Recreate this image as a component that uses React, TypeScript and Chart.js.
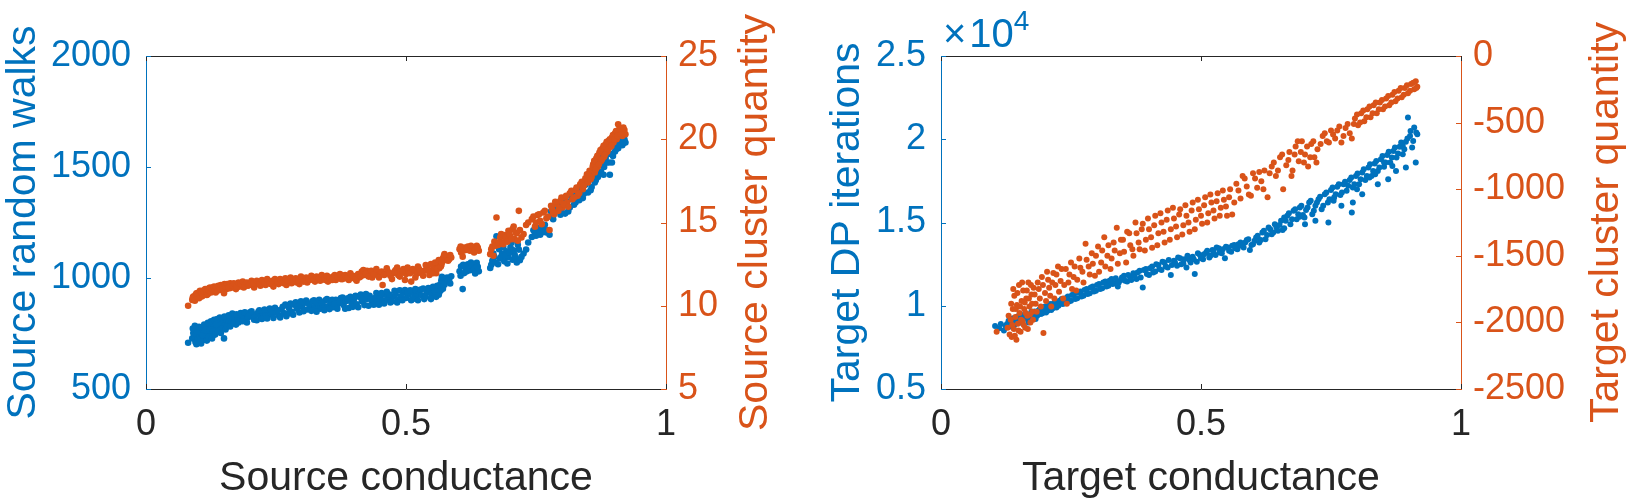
import React, { useEffect, useRef } from 'react';
import { Chart, registerables } from 'chart.js';

Chart.register(...registerables);

const BLUE = '#0072BD';
const ORANGE = '#D95319';
const AXIS = '#262626';
const FONT = "'Liberation Sans', Arial, Helvetica, sans-serif";

// ---------- Left plot: Source ----------
const sourceXTicks = [0, 0.5, 1];
const sourceWalksTicks = [500, 1000, 1500, 2000];
const sourceClusterTicks = [5, 10, 15, 20, 25];

const sourceWalks: [number, number][] = [
  [0.081,708],[0.089,728],[0.091,752],[0.093,738],[0.095,712],[0.096,765],[0.098,745],[0.100,725],[0.101,770],[0.103,740],
  [0.105,755],[0.106,705],[0.108,732],[0.110,768],[0.111,745],[0.113,722],[0.115,780],[0.116,758],[0.118,735],[0.120,772],
  [0.122,748],[0.124,790],[0.126,762],[0.128,742],[0.130,785],[0.132,770],[0.134,798],[0.136,765],[0.138,785],[0.141,805],
  [0.143,778],[0.146,795],[0.149,812],[0.150,728],[0.152,788],[0.155,805],[0.158,795],[0.161,818],[0.164,800],[0.167,822],
  [0.170,808],[0.173,790],[0.176,825],[0.180,812],[0.184,832],[0.188,815],[0.192,838],[0.196,822],[0.200,845],[0.204,828],
  [0.208,812],[0.212,836],[0.216,848],[0.220,826],[0.225,842],[0.230,830],[0.235,852],[0.240,836],[0.245,820],[0.250,845],
  [0.255,832],[0.260,858],[0.265,842],[0.270,828],[0.275,865],[0.280,848],[0.285,880],[0.290,862],[0.295,845],[0.300,872],
  [0.305,888],[0.310,858],[0.315,876],[0.320,895],[0.325,870],[0.330,885],[0.335,862],[0.340,878],[0.345,900],[0.350,872],
  [0.355,890],[0.360,868],[0.365,902],[0.370,885],[0.375,910],[0.380,878],[0.385,896],[0.390,865],[0.395,890],[0.400,905],
  [0.405,882],[0.410,915],[0.415,895],[0.420,878],[0.425,905],[0.430,920],[0.435,892],[0.440,910],[0.445,895],[0.450,918],
  [0.455,900],[0.460,925],[0.465,905],[0.470,890],[0.475,915],[0.480,928],[0.485,902],[0.490,918],[0.495,935],[0.500,910],
  [0.505,925],[0.510,900],[0.515,930],[0.520,918],[0.525,940],[0.530,922],[0.535,905],[0.540,935],[0.545,948],[0.550,925],
  [0.554,942],[0.558,915],[0.561,958],[0.564,935],[0.566,972],[0.568,990],[0.571,952],[0.573,998],[0.576,985],[0.579,1002],
  [0.583,992],[0.587,1008],[0.603,1030],[0.606,1052],[0.609,950],[0.612,1022],[0.615,1045],[0.619,1062],[0.623,1035],[0.627,1055],
  [0.631,1040],[0.636,1068],[0.640,1030],[0.662,1045],[0.666,1078],[0.670,1095],[0.674,1188],[0.677,1062],[0.681,1088],[0.685,1110],
  [0.689,1075],[0.693,1120],[0.697,1095],[0.701,1138],[0.705,1082],[0.709,1105],[0.713,1070],[0.717,1128],[0.722,1095],[0.731,1128],
  [0.742,1185],[0.748,1200],[0.753,1215],[0.758,1195],[0.764,1228],[0.770,1205],[0.776,1195],[0.781,1275],[0.785,1300],[0.789,1335],
  [0.793,1310],[0.797,1285],[0.801,1325],[0.806,1290],[0.810,1345],[0.815,1318],[0.820,1355],[0.826,1340],[0.830,1372],[0.835,1395],
  [0.840,1360],[0.845,1420],[0.850,1385],[0.853,1445],[0.857,1410],[0.860,1475],[0.863,1430],[0.866,1505],[0.869,1455],[0.872,1530],
  [0.875,1480],[0.878,1555],[0.881,1500],[0.884,1540],[0.887,1585],[0.890,1520],[0.893,1560],[0.896,1520],[0.899,1595],[0.902,1570],
  [0.905,1608],[0.908,1585],[0.912,1615],[0.916,1598],[0.920,1625],[0.922,1610],
  [0.090,772],[0.094,785],[0.097,702],[0.099,758],[0.102,780],[0.104,718],[0.107,776],[0.109,742],[0.112,790],[0.114,765],
  [0.117,718],[0.119,798],[0.121,735],[0.123,765],[0.125,805],[0.127,728],[0.129,760],[0.131,812],[0.133,745],[0.135,790],
  [0.137,815],[0.139,760],[0.142,822],[0.144,752],[0.147,772],[0.151,826],[0.153,768],[0.156,782],[0.159,832],[0.162,782],
  [0.166,840],[0.169,795],[0.174,836],[0.178,800],[0.182,842],[0.186,805],[0.190,846],[0.194,800],[0.198,832],[0.203,850],
  [0.207,822],[0.213,810],[0.218,855],[0.223,815],[0.228,858],[0.233,818],[0.238,862],[0.243,848],[0.248,866],[0.253,855],
  [0.258,822],[0.263,870],[0.268,880],[0.273,840],[0.278,885],[0.283,835],[0.288,890],[0.293,872],[0.298,895],[0.303,850],
  [0.308,898],[0.313,885],[0.318,852],[0.323,900],[0.328,848],[0.333,902],[0.338,890],[0.343,855],[0.348,905],[0.353,860],
  [0.358,902],[0.363,885],[0.368,862],[0.373,895],[0.378,912],[0.383,862],[0.388,908],[0.393,915],[0.398,870],[0.403,920],
  [0.408,868],[0.413,925],[0.418,905],[0.423,928],[0.428,875],[0.433,905],[0.438,880],[0.443,932],[0.448,880],[0.453,932],
  [0.458,885],[0.463,938],[0.468,925],[0.473,895],[0.478,942],[0.483,890],[0.488,945],[0.493,900],[0.498,946],[0.503,935],
  [0.508,945],[0.513,905],[0.518,950],[0.523,900],[0.528,948],[0.533,952],[0.538,915],[0.543,955],[0.548,905],[0.552,960],
  [0.556,938],[0.560,965],[0.563,925],[0.567,945],
  [0.569,1005],[0.574,970],[0.581,990],[0.585,975],[0.605,1010],[0.610,1060],[0.617,1030],[0.625,1070],[0.633,1020],[0.638,1050],
  [0.664,1060],[0.668,1110],[0.672,1070],[0.679,1130],[0.683,1095],[0.687,1140],[0.691,1100],[0.695,1065],[0.699,1115],[0.703,1160],
  [0.707,1125],[0.711,1090],[0.715,1150],[0.719,1080],[0.726,1110],[0.735,1160],[0.745,1215],[0.750,1190],[0.756,1225],[0.761,1205],
  [0.767,1240],[0.773,1215],[0.779,1300],[0.783,1265],[0.787,1310],[0.795,1340],[0.799,1300],[0.803,1360],[0.808,1330],[0.812,1300],
  [0.818,1370],[0.823,1330],[0.828,1390],[0.833,1350],[0.838,1410],[0.842,1380],[0.848,1440],[0.855,1395],[0.859,1460],[0.862,1500],
  [0.865,1440],[0.868,1520],[0.871,1470],[0.874,1545],[0.877,1510],[0.880,1465],[0.883,1575],[0.886,1520],[0.889,1560],[0.892,1465],
  [0.895,1595],[0.898,1550],[0.901,1600],[0.904,1580],[0.907,1620],[0.910,1600],[0.914,1630],[0.918,1615]
];

const sourceClusters: [number, number][] = [
  [0.081,10.0],[0.089,10.35],[0.091,10.55],[0.093,10.4],[0.095,10.65],[0.097,10.5],[0.099,10.75],[0.101,10.6],[0.103,10.85],[0.105,10.7],
  [0.107,10.55],[0.109,10.9],[0.111,10.75],[0.113,10.95],[0.115,10.8],[0.117,10.65],[0.119,10.95],[0.121,11.05],[0.123,10.85],[0.125,10.95],
  [0.128,11.1],[0.130,10.9],[0.132,11.05],[0.134,10.8],[0.136,11.0],[0.138,11.15],[0.141,10.95],[0.143,11.1],[0.146,11.0],[0.149,11.2],
  [0.150,10.75],[0.152,11.1],[0.155,11.0],[0.158,11.2],[0.161,11.05],[0.164,11.25],[0.167,11.1],[0.170,11.2],[0.173,11.0],[0.176,11.3],
  [0.180,11.15],[0.184,11.25],[0.188,11.1],[0.192,11.3],[0.196,11.2],[0.200,11.35],[0.204,11.25],[0.208,11.1],[0.212,11.3],[0.216,11.4],
  [0.220,11.2],[0.225,11.35],[0.230,11.25],[0.235,11.45],[0.240,11.3],[0.245,11.15],[0.250,11.4],[0.255,11.3],[0.260,11.5],[0.265,11.35],
  [0.270,11.25],[0.275,11.45],[0.280,11.35],[0.285,11.55],[0.290,11.4],[0.295,11.3],[0.300,11.5],[0.305,11.6],[0.310,11.4],[0.315,11.55],
  [0.320,11.65],[0.325,11.45],[0.330,11.6],[0.335,11.5],[0.340,11.7],[0.345,11.55],[0.350,11.45],[0.355,11.65],[0.360,11.75],[0.365,11.55],
  [0.370,11.7],[0.375,11.6],[0.380,11.8],[0.385,11.65],[0.390,11.55],[0.395,11.75],[0.400,11.65],[0.405,11.5],[0.410,11.7],[0.415,12.05],
  [0.420,11.85],[0.425,12.1],[0.430,11.9],[0.435,11.7],[0.440,12.0],[0.445,11.85],[0.450,11.95],[0.455,11.25],[0.460,11.9],[0.465,12.05],
  [0.470,11.8],[0.475,11.95],[0.480,12.15],[0.485,11.85],[0.490,12.0],[0.495,12.2],[0.500,11.9],[0.505,12.05],[0.510,11.45],[0.515,12.1],
  [0.520,11.9],[0.525,12.2],[0.530,11.95],[0.535,12.1],[0.540,12.3],[0.545,11.85],[0.550,12.15],[0.554,12.4],[0.558,11.95],[0.561,12.55],
  [0.564,12.25],[0.566,12.7],[0.568,12.45],[0.571,12.85],[0.573,13.0],[0.576,12.75],[0.579,12.95],[0.583,12.8],[0.587,12.9],[0.603,13.4],
  [0.606,13.2],[0.609,12.95],[0.612,13.5],[0.615,13.35],[0.619,13.55],[0.623,13.3],[0.627,13.45],[0.631,13.2],[0.636,13.6],[0.640,13.3],
  [0.662,13.1],[0.666,13.55],[0.670,13.85],[0.674,15.3],[0.677,13.65],[0.681,14.1],[0.685,13.8],[0.689,14.25],[0.693,13.95],[0.697,14.5],
  [0.701,14.15],[0.705,14.6],[0.709,14.0],[0.713,14.35],[0.717,15.7],[0.722,14.1],[0.731,14.85],[0.742,15.2],[0.748,14.75],[0.753,15.45],
  [0.758,15.1],[0.764,15.6],[0.770,15.25],[0.776,14.55],[0.781,15.8],[0.785,15.5],[0.789,16.1],[0.793,15.7],[0.797,16.3],[0.801,15.9],
  [0.806,16.5],[0.810,16.2],[0.815,16.75],[0.820,16.4],[0.826,16.95],[0.830,16.6],[0.835,17.3],[0.840,17.0],[0.845,17.65],[0.850,17.4],
  [0.853,18.1],[0.857,17.75],[0.860,18.5],[0.863,18.0],[0.866,18.85],[0.869,18.35],[0.872,19.2],[0.875,18.7],[0.878,19.45],[0.881,18.95],
  [0.884,19.7],[0.887,19.25],[0.890,19.9],[0.893,19.55],[0.896,20.1],[0.899,19.8],[0.902,20.35],[0.905,20.0],[0.908,20.9],[0.912,20.45],
  [0.916,20.2],[0.920,20.55],[0.922,20.3],
  [0.090,10.5],[0.094,10.3],[0.097,10.75],[0.099,10.55],[0.102,10.45],[0.104,10.9],[0.107,10.8],[0.109,10.6],[0.112,10.85],[0.114,11.0],
  [0.117,10.85],[0.119,10.7],[0.121,10.9],[0.123,11.1],[0.125,10.8],[0.127,11.05],[0.129,10.95],[0.131,11.15],[0.133,10.95],[0.135,11.1],
  [0.137,10.9],[0.139,11.2],[0.142,11.05],[0.144,11.25],[0.147,11.1],[0.151,11.3],[0.153,11.15],[0.156,11.3],[0.159,11.1],[0.162,11.35],
  [0.166,11.2],[0.169,11.35],[0.174,11.15],[0.178,11.4],[0.182,11.3],[0.186,11.45],[0.190,11.2],[0.194,11.4],[0.198,11.25],[0.203,11.5],
  [0.207,11.35],[0.213,11.5],[0.218,11.3],[0.223,11.55],[0.228,11.4],[0.233,11.6],[0.238,11.35],[0.243,11.5],[0.248,11.6],[0.253,11.45],
  [0.258,11.6],[0.263,11.4],[0.268,11.65],[0.273,11.5],[0.278,11.7],[0.283,11.45],[0.288,11.65],[0.293,11.55],[0.298,11.75],[0.303,11.45],
  [0.308,11.7],[0.313,11.6],[0.318,11.8],[0.323,11.55],[0.328,11.75],[0.333,11.65],[0.338,11.85],[0.343,11.6],[0.348,11.8],[0.353,11.7],
  [0.358,11.55],[0.363,11.85],[0.368,11.75],[0.373,11.9],[0.378,11.6],[0.383,11.85],[0.388,11.7],[0.393,11.95],[0.398,11.8],[0.403,11.6],
  [0.408,11.9],[0.413,11.75],[0.418,12.15],[0.423,11.95],[0.428,11.75],[0.433,12.1],[0.438,11.9],[0.443,12.2],[0.448,11.7],[0.453,12.05],
  [0.458,11.85],[0.463,12.25],[0.468,11.95],[0.473,11.6],[0.478,12.05],[0.483,12.3],[0.488,11.75],[0.493,12.1],[0.498,11.55],[0.503,12.3],
  [0.508,11.95],[0.513,12.2],[0.518,11.7],[0.523,12.35],[0.528,12.05],[0.533,11.8],[0.538,12.45],[0.543,12.1],[0.548,12.5],[0.552,11.95],
  [0.556,12.6],[0.560,12.2],[0.563,12.75],[0.567,12.35],
  [0.569,12.6],[0.574,13.1],[0.581,12.7],[0.585,13.05],[0.605,13.55],[0.610,13.3],[0.617,13.45],[0.625,13.6],[0.633,13.35],[0.638,13.5],
  [0.664,13.4],[0.668,13.0],[0.672,13.6],[0.679,13.8],[0.683,14.3],[0.687,13.7],[0.691,14.1],[0.695,13.85],[0.699,14.3],[0.703,14.0],
  [0.707,14.75],[0.711,14.4],[0.715,13.9],[0.719,14.55],[0.726,14.3],[0.735,15.0],[0.745,15.35],[0.750,15.0],[0.756,15.5],[0.761,14.9],
  [0.767,15.7],[0.773,15.35],[0.779,16.0],[0.783,15.6],[0.787,16.25],[0.795,15.9],[0.799,16.5],[0.803,16.1],[0.808,16.6],[0.812,15.95],
  [0.818,16.9],[0.823,16.5],[0.828,17.1],[0.833,16.75],[0.838,17.45],[0.842,17.2],[0.848,17.9],[0.855,17.6],[0.859,18.35],[0.862,18.7],
  [0.865,18.2],[0.868,19.0],[0.871,18.5],[0.874,19.35],[0.877,18.8],[0.880,19.6],[0.883,19.1],[0.886,19.85],[0.889,19.4],[0.892,20.0],
  [0.895,19.6],[0.898,20.25],[0.901,20.0],[0.904,20.5],[0.907,20.2],[0.910,20.6],[0.914,20.3],[0.918,20.7]
];

// ---------- Right plot: Target ----------
const targetXTicks = [0, 0.5, 1];
const targetIterTicks = [5000, 10000, 15000, 20000, 25000];
const targetClusterTicks = [-2500, -2000, -1500, -1000, -500, 0];

const targetIterations: [number, number][] = [
  [0.104,8780],[0.112,8650],[0.121,8520],[0.127,8900],[0.133,8750],[0.137,9050],[0.141,8850],[0.145,9200],[0.148,8950],[0.152,9350],
  [0.156,9100],[0.160,9450],[0.164,9250],[0.168,9000],[0.172,9500],[0.176,9300],[0.180,9650],[0.185,9400],[0.190,9800],[0.195,9550],
  [0.200,9950],[0.205,9700],[0.210,10100],[0.215,9850],[0.220,10250],[0.226,10000],[0.232,10400],[0.238,10150],[0.244,10550],[0.250,10300],
  [0.256,10700],[0.262,10450],[0.268,10850],[0.274,10600],[0.280,11000],[0.286,10750],[0.292,11150],[0.298,10900],[0.304,11300],[0.310,11050],
  [0.316,11450],[0.322,11200],[0.328,11600],[0.334,11350],[0.340,11150],[0.346,11550],[0.352,11800],[0.358,11450],[0.364,11700],[0.370,11950],
  [0.376,11600],[0.382,12100],[0.388,11100],[0.394,12200],[0.400,11850],[0.406,12350],[0.412,12050],[0.418,12450],[0.424,12150],[0.430,12600],
  [0.436,12300],[0.442,11850],[0.448,12700],[0.454,12400],[0.460,12850],[0.466,12550],[0.472,12300],[0.478,12750],[0.484,12950],[0.488,11900],
  [0.492,12650],[0.498,13050],[0.504,12800],[0.510,13200],[0.516,12900],[0.522,13350],[0.528,13050],[0.534,13450],[0.540,13150],[0.546,12850],
  [0.552,13500],[0.558,13250],[0.564,13650],[0.570,13400],[0.576,13800],[0.582,13500],[0.588,13950],[0.594,13350],[0.600,13700],[0.606,14100],
  [0.612,13800],[0.618,14400],[0.624,14000],[0.630,14700],[0.636,14300],[0.642,14900],[0.648,14500],[0.654,15100],[0.660,14650],[0.666,15400],
  [0.672,14900],[0.678,15700],[0.684,15200],[0.690,15900],[0.696,15450],[0.702,15750],[0.708,16200],[0.714,15500],[0.720,16000],[0.726,16400],
  [0.732,15800],[0.738,16700],[0.744,16200],[0.750,16950],[0.756,16500],[0.762,17150],[0.768,16650],[0.774,17300],[0.780,16900],[0.786,17550],
  [0.792,17100],[0.798,17800],[0.804,17300],[0.810,18000],[0.816,17550],[0.822,18300],[0.828,17800],[0.834,18550],[0.840,18100],[0.846,18800],
  [0.852,18350],[0.858,19050],[0.864,18600],[0.870,19300],[0.876,18900],[0.882,19550],[0.888,19100],[0.894,19850],[0.898,21300],[0.902,20200],
  [0.906,19500],[0.910,20700],[0.913,18600],[0.916,20300],
  [0.115,8900],[0.124,8800],[0.130,9100],[0.135,8950],[0.139,9250],[0.143,9000],[0.147,9350],[0.150,9150],[0.154,9000],[0.158,9300],
  [0.162,9550],[0.166,9200],[0.170,9400],[0.174,9650],[0.178,9450],[0.182,9200],[0.187,9700],[0.192,9500],[0.197,9850],[0.202,9600],
  [0.207,10000],[0.212,9750],[0.217,10150],[0.222,9900],[0.228,10300],[0.234,10100],[0.240,10450],[0.246,10250],[0.252,10650],[0.258,10400],
  [0.264,10800],[0.270,10550],[0.276,10950],[0.282,10700],[0.288,11100],[0.294,10850],[0.300,11250],[0.306,11000],[0.312,11400],[0.318,11150],
  [0.324,11500],[0.330,11300],[0.336,11650],[0.342,11400],[0.348,11700],[0.354,11500],[0.360,11850],[0.366,11550],[0.372,11800],[0.378,12000],
  [0.384,11700],[0.390,12150],[0.396,11900],[0.402,12250],[0.408,12000],[0.414,12500],[0.420,12200],[0.426,12650],[0.432,12350],[0.438,12750],
  [0.444,12450],[0.450,12600],[0.456,12900],[0.462,12500],[0.468,12800],[0.474,13000],[0.480,12600],[0.486,12800],[0.494,13150],[0.500,12850],
  [0.506,13100],[0.512,13300],[0.518,13000],[0.524,13250],[0.530,13500],[0.536,13200],[0.542,13400],[0.548,13550],[0.554,13300],[0.560,13600],
  [0.566,13450],[0.572,13700],[0.578,13600],[0.585,13800],[0.591,14000],[0.597,13650],[0.603,13900],[0.609,14200],[0.615,13950],[0.621,14500],
  [0.627,14250],[0.633,14600],[0.639,14400],[0.645,14700],[0.651,14850],[0.657,14550],[0.663,15100],[0.669,15550],[0.675,15200],[0.681,15800],
  [0.687,15500],[0.693,16000],[0.699,15300],[0.705,15900],[0.711,16300],[0.717,15700],[0.723,16200],[0.729,16550],[0.735,16000],[0.741,16800],
  [0.747,16400],[0.753,17100],[0.759,16700],[0.765,17300],[0.771,16800],[0.777,17450],[0.783,17200],[0.789,17700],[0.795,17300],[0.801,17950],
  [0.807,17600],[0.813,18200],[0.819,17800],[0.825,18500],[0.831,18100],[0.837,18700],[0.843,18300],[0.849,19000],[0.855,18600],[0.861,19250],
  [0.867,18900],[0.873,19500],[0.879,19150],[0.885,19800],[0.891,19400],[0.897,20050],[0.903,20500],[0.908,19900],[0.914,20400],
  [0.700,14900],[0.720,15100],[0.745,15000],[0.770,16000],[0.790,15600],[0.792,16200],[0.810,16700],[0.824,17700],[0.840,17300],[0.852,18600],
  [0.860,17600],[0.875,18100],[0.894,18300],[0.660,15300],[0.690,15350],[0.755,16300],[0.800,17000],[0.835,17900],[0.868,18400],[0.888,19600]
];

const targetClusters: [number, number][] = [
  [0.107,-2070],[0.128,-2040],[0.134,-1980],[0.136,-2110],[0.138,-1900],[0.140,-2050],[0.141,-1800],[0.143,-1960],[0.145,-2130],[0.146,-1870],
  [0.148,-2010],[0.150,-1720],[0.151,-1930],[0.153,-2070],[0.155,-1840],[0.157,-1990],[0.158,-1760],[0.160,-1900],[0.162,-2040],[0.164,-1820],
  [0.166,-1950],[0.168,-1700],[0.170,-1880],[0.172,-2000],[0.174,-1790],[0.176,-1920],[0.178,-1740],[0.182,-1860],[0.186,-1700],[0.190,-1820],
  [0.194,-1660],[0.197,-2080],[0.200,-1780],[0.204,-1620],[0.208,-1740],[0.212,-1880],[0.216,-1630],[0.220,-1720],[0.225,-1580],[0.230,-1690],
  [0.235,-1820],[0.240,-1600],[0.245,-1700],[0.250,-1550],[0.255,-1660],[0.260,-1760],[0.266,-1520],[0.272,-1620],[0.278,-1410],[0.284,-1580],
  [0.290,-1480],[0.296,-1650],[0.302,-1430],[0.308,-1550],[0.314,-1360],[0.320,-1500],[0.326,-1600],[0.332,-1400],[0.338,-1290],[0.344,-1480],
  [0.350,-1380],[0.356,-1550],[0.362,-1330],[0.368,-1450],[0.374,-1250],[0.380,-1400],[0.386,-1300],[0.392,-1460],[0.398,-1220],[0.404,-1360],
  [0.410,-1270],[0.416,-1420],[0.422,-1180],[0.428,-1320],[0.434,-1230],[0.440,-1380],[0.446,-1140],[0.452,-1280],[0.458,-1190],[0.464,-1340],
  [0.470,-1120],[0.476,-1250],[0.482,-1160],[0.488,-1300],[0.494,-1080],[0.500,-1200],[0.506,-1120],[0.512,-1250],[0.518,-1040],[0.524,-1160],
  [0.530,-1090],[0.536,-1200],[0.542,-1010],[0.548,-1130],[0.554,-1060],[0.560,-1190],[0.568,-960],[0.576,-1070],[0.584,-920],[0.592,-1040],
  [0.600,-880],[0.608,-990],[0.616,-940],[0.622,-860],[0.628,-1060],[0.636,-830],[0.644,-900],[0.652,-760],[0.658,-1000],[0.664,-820],
  [0.670,-720],[0.676,-860],[0.682,-680],[0.688,-790],[0.694,-640],[0.700,-740],[0.706,-830],[0.712,-660],[0.718,-760],[0.724,-700],
  [0.734,-600],[0.742,-640],[0.750,-560],[0.758,-620],[0.766,-530],[0.774,-600],[0.782,-510],[0.790,-620],[0.796,-470],[0.802,-520],
  [0.808,-430],[0.814,-490],[0.820,-400],[0.826,-460],[0.832,-370],[0.838,-430],[0.844,-350],[0.850,-400],[0.856,-320],[0.862,-370],
  [0.868,-290],[0.874,-340],[0.880,-260],[0.886,-310],[0.892,-240],[0.898,-280],[0.904,-210],[0.910,-250],[0.913,-190],[0.916,-230],
  [0.130,-1950],[0.132,-2090],[0.135,-1860],[0.137,-2020],[0.139,-1750],[0.142,-2100],[0.144,-1900],[0.147,-1780],[0.149,-2060],[0.152,-1880],
  [0.154,-1980],[0.156,-1700],[0.159,-2020],[0.161,-1850],[0.163,-1930],[0.165,-1760],[0.167,-2050],[0.169,-1820],[0.171,-1940],[0.173,-1720],
  [0.175,-1860],[0.177,-1980],[0.180,-1790],[0.184,-1920],[0.188,-1750],[0.192,-1880],[0.196,-1720],[0.202,-1840],[0.206,-1680],[0.210,-1800],
  [0.214,-1700],[0.218,-1820],[0.222,-1640],[0.227,-1770],[0.232,-1600],[0.237,-1720],[0.242,-1860],[0.247,-1640],[0.252,-1750],[0.257,-1580],
  [0.262,-1680],[0.268,-1590],[0.274,-1700],[0.280,-1530],[0.286,-1640],[0.292,-1560],[0.298,-1500],[0.304,-1620],[0.310,-1460],[0.316,-1580],
  [0.322,-1420],[0.328,-1520],[0.334,-1460],[0.340,-1560],[0.346,-1380],[0.352,-1470],[0.358,-1320],[0.364,-1420],[0.370,-1500],[0.376,-1330],
  [0.382,-1450],[0.388,-1260],[0.394,-1380],[0.400,-1300],[0.406,-1440],[0.412,-1200],[0.418,-1330],[0.424,-1250],[0.430,-1400],[0.436,-1160],
  [0.442,-1300],[0.448,-1220],[0.454,-1360],[0.460,-1150],[0.466,-1270],[0.472,-1200],[0.478,-1320],[0.484,-1100],[0.490,-1230],[0.496,-1150],
  [0.502,-1260],[0.508,-1060],[0.514,-1180],[0.520,-1100],[0.526,-1220],[0.532,-1030],[0.538,-1140],[0.544,-1080],[0.550,-1200],[0.556,-1000],
  [0.564,-1100],[0.572,-1010],[0.580,-900],[0.588,-980],[0.596,-1050],[0.604,-920],[0.612,-870],[0.620,-1000],[0.632,-880],[0.640,-800],
  [0.648,-860],[0.656,-740],[0.668,-780],[0.674,-900],[0.680,-740],[0.686,-640],[0.692,-720],[0.698,-800],[0.704,-680],[0.710,-760],
  [0.716,-640],[0.722,-800],[0.730,-660],[0.738,-580],[0.746,-650],[0.754,-590],[0.762,-560],[0.770,-650],[0.778,-540],[0.786,-580],
  [0.794,-510],[0.800,-440],[0.806,-500],[0.812,-410],[0.818,-460],[0.824,-380],[0.830,-430],[0.836,-350],[0.842,-400],[0.848,-330],
  [0.854,-380],[0.860,-300],[0.866,-350],[0.872,-270],[0.878,-320],[0.884,-240],[0.890,-290],[0.896,-220],[0.902,-260],[0.908,-200],
  [0.914,-240]
];

const TICK_FONT = 36;
const TITLE_FONT = 41;

const framePlugin = {
  id: 'matlabFrame',
  afterDraw(chart: any, _args: any, opts: any) {
    const { ctx, chartArea, scales } = chart;
    const { left, right, top, bottom } = chartArea;
    const tl = 5;
    ctx.save();
    ctx.lineWidth = 1;
    ctx.strokeStyle = AXIS;
    ctx.beginPath();
    ctx.moveTo(left, Math.round(top) + 0.5);
    ctx.lineTo(right, Math.round(top) + 0.5);
    ctx.stroke();
    scales.x.ticks.forEach((t: any) => {
      const px = Math.round(scales.x.getPixelForValue(t.value)) + 0.5;
      ctx.beginPath();
      ctx.moveTo(px, bottom);
      ctx.lineTo(px, bottom - tl);
      ctx.moveTo(px, top);
      ctx.lineTo(px, top + tl);
      ctx.stroke();
    });
    ctx.strokeStyle = BLUE;
    scales.y.ticks.forEach((t: any) => {
      const py = Math.round(scales.y.getPixelForValue(t.value)) + 0.5;
      ctx.beginPath();
      ctx.moveTo(left, py);
      ctx.lineTo(left + tl, py);
      ctx.stroke();
    });
    ctx.strokeStyle = ORANGE;
    scales.y2.ticks.forEach((t: any) => {
      const py = Math.round(scales.y2.getPixelForValue(t.value)) + 0.5;
      ctx.beginPath();
      ctx.moveTo(right, py);
      ctx.lineTo(right - tl, py);
      ctx.stroke();
    });

    const cy = (top + bottom) / 2;
    ctx.font = `${TITLE_FONT}px ${FONT}`;
    ctx.textAlign = 'center';
    ctx.textBaseline = 'alphabetic';
    ctx.fillStyle = BLUE;
    ctx.save();
    ctx.translate(opts.yTitleX, cy);
    ctx.rotate(-Math.PI / 2);
    ctx.fillText(opts.yTitle, 0, 0);
    ctx.restore();
    ctx.fillStyle = ORANGE;
    ctx.save();
    ctx.translate(opts.y2TitleX, cy);
    ctx.rotate(-Math.PI / 2);
    ctx.fillText(opts.y2Title, 0, 0);
    ctx.restore();
    ctx.fillStyle = AXIS;
    ctx.fillText(opts.xTitle, (left + right) / 2, opts.xTitleY);

    if (opts.exponent) {
      ctx.fillStyle = BLUE;
      ctx.textAlign = 'left';
      ctx.font = `40px ${FONT}`;
      const x0 = left + 2;
      ctx.fillText('\u00D7', x0, 47);
      const wx = ctx.measureText('\u00D7').width;
      const x1 = x0 + wx + 3;
      ctx.fillText('10', x1, 47);
      const w10 = ctx.measureText('10').width;
      ctx.font = `28px ${FONT}`;
      ctx.fillText(opts.exponent, x1 + w10, 30);
    }
    ctx.restore();
  },
};

interface PlotSpec {
  blue: [number, number][];
  orange: [number, number][];
  blueLabel: string;
  orangeLabel: string;
  xTicks: number[];
  yTicks: number[];
  y2Ticks: number[];
  yFormat: (v: number) => string;
  leftWidth: number;
  rightWidth: number;
  radius: number;
  yTitle: string;
  y2Title: string;
  xTitle: string;
  yTitleX: number;
  y2TitleX: number;
  exponent?: string;
}

function makeConfig(p: PlotSpec): any {
  const tickFont = { family: FONT, size: TICK_FONT };
  const stepOf = (a: number[]) => a[1] - a[0];
  return {
    type: 'scatter',
    data: {
      datasets: [
        {
          label: p.orangeLabel,
          data: p.orange.map(([x, y]) => ({ x, y })),
          yAxisID: 'y2',
          backgroundColor: ORANGE,
          borderColor: ORANGE,
          borderWidth: 0,
          pointRadius: p.radius,
          pointHoverRadius: p.radius,
          order: 0,
        },
        {
          label: p.blueLabel,
          data: p.blue.map(([x, y]) => ({ x, y })),
          yAxisID: 'y',
          backgroundColor: BLUE,
          borderColor: BLUE,
          borderWidth: 0,
          pointRadius: p.radius,
          pointHoverRadius: p.radius,
          order: 1,
        },
      ],
    },
    options: {
      responsive: false,
      animation: false,
      devicePixelRatio: 1,
      events: [],
      layout: { padding: { top: 56, left: 0, right: 0, bottom: 0 } },
      plugins: {
        legend: { display: false },
        tooltip: { enabled: false },
        matlabFrame: {
          yTitle: p.yTitle,
          y2Title: p.y2Title,
          xTitle: p.xTitle,
          yTitleX: p.yTitleX,
          y2TitleX: p.y2TitleX,
          xTitleY: 490,
          exponent: p.exponent,
        },
      },
      scales: {
        x: {
          type: 'linear',
          position: 'bottom',
          min: p.xTicks[0],
          max: p.xTicks[p.xTicks.length - 1],
          ticks: {
            stepSize: stepOf(p.xTicks),
            color: AXIS,
            font: tickFont,
            padding: 14,
            maxRotation: 0,
            autoSkip: false,
            callback: (v: number) => String(v),
          },
          grid: { display: true, drawOnChartArea: false, drawTicks: false },
          border: { display: true, color: AXIS, width: 1 },
          afterFit: (s: any) => { s.height = 111; },
        },
        y: {
          type: 'linear',
          position: 'left',
          min: p.yTicks[0],
          max: p.yTicks[p.yTicks.length - 1],
          ticks: {
            stepSize: stepOf(p.yTicks),
            color: BLUE,
            font: tickFont,
            padding: 15,
            callback: (v: number) => p.yFormat(v),
          },
          grid: { display: true, drawOnChartArea: false, drawTicks: false },
          border: { display: true, color: BLUE, width: 1 },
          afterFit: (s: any) => { s.width = p.leftWidth; },
        },
        y2: {
          type: 'linear',
          position: 'right',
          min: p.y2Ticks[0],
          max: p.y2Ticks[p.y2Ticks.length - 1],
          ticks: {
            stepSize: stepOf(p.y2Ticks),
            color: ORANGE,
            font: tickFont,
            padding: 12,
            callback: (v: number) => String(v),
          },
          grid: { display: true, drawOnChartArea: false, drawTicks: false },
          border: { display: true, color: ORANGE, width: 1 },
          afterFit: (s: any) => { s.width = p.rightWidth; },
        },
      },
    },
    plugins: [framePlugin],
  };
}

export default function App() {
  const leftRef = useRef<HTMLCanvasElement>(null);
  const rightRef = useRef<HTMLCanvasElement>(null);

  useEffect(() => {
    document.body.style.margin = '0';
    const c1 = new Chart(
      leftRef.current as HTMLCanvasElement,
      makeConfig({
        blue: sourceWalks,
        orange: sourceClusters,
        blueLabel: 'Source random walks',
        orangeLabel: 'Source cluster quantity',
        xTicks: sourceXTicks,
        yTicks: sourceWalksTicks,
        y2Ticks: sourceClusterTicks,
        yFormat: (v) => String(v),
        leftWidth: 146,
        rightWidth: 154,
        radius: 3.3,
        yTitle: 'Source random walks',
        y2Title: 'Source cluster quantity',
        xTitle: 'Source conductance',
        yTitleX: 35,
        y2TitleX: 767,
      })
    );
    const c2 = new Chart(
      rightRef.current as HTMLCanvasElement,
      makeConfig({
        blue: targetIterations,
        orange: targetClusters,
        blueLabel: 'Target DP iterations',
        orangeLabel: 'Target cluster quantity',
        xTicks: targetXTicks,
        yTicks: targetIterTicks,
        y2Ticks: targetClusterTicks,
        yFormat: (v) => String(v / 10000),
        leftWidth: 121,
        rightWidth: 173,
        radius: 3,
        yTitle: 'Target DP iterations',
        y2Title: 'Target cluster quantity',
        xTitle: 'Target conductance',
        yTitleX: 39,
        y2TitleX: 798,
        exponent: '4',
      })
    );
    return () => {
      c1.destroy();
      c2.destroy();
    };
  }, []);

  return (
    <div style={{ position: 'relative', width: 1634, height: 500, overflow: 'hidden', background: '#ffffff' }}>
      <canvas
        ref={leftRef}
        width={820}
        height={500}
        style={{ position: 'absolute', left: 0, top: 0, width: 820, height: 500 }}
      />
      <canvas
        ref={rightRef}
        width={814}
        height={500}
        style={{ position: 'absolute', left: 820, top: 0, width: 814, height: 500 }}
      />
    </div>
  );
}
